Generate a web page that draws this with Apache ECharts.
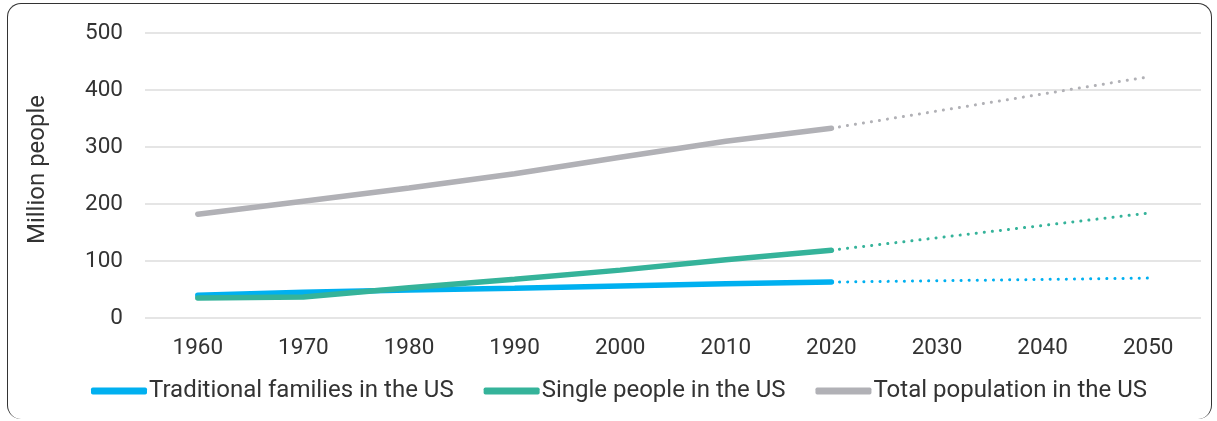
<!DOCTYPE html>
<html>
<head>
<meta charset="utf-8">
<script src="https://cdn.jsdelivr.net/npm/echarts@6/dist/echarts.min.js"></script>
<style>
  html, body { margin: 0; padding: 0; background: #fff; }
  #box { position: absolute; left: 7px; top: 3px; width: 1205px; height: 416px; border: 1.5px solid #333; border-radius: 14px; border-bottom: none; box-sizing: border-box; }
  #main { width: 1217px; height: 421px; }
</style>
</head>
<body>
<div id="box"></div>
<div id="main"></div>
<script>
// 数据
var years = ['1960','1970','1980','1990','2000','2010','2020','2030','2040','2050'];
var traditional = [40, 45, 49, 52, 56, 60, 63, null, null, null];
var single = [35, 37, 53, 68, 84, 102, 119, null, null, null];
var total = [182, 205, 228, 253, 282, 310, 333, null, null, null];
// 预测部分 (2020 -> 2050)
var traditionalProj = [null, null, null, null, null, null, 63, null, null, 70];
var singleProj = [null, null, null, null, null, null, 119, null, null, 184];
var totalProj = [null, null, null, null, null, null, 333, null, null, 423];

var cBlue = '#00b0f0', cGreen = '#35b39a', cGrey = '#b1b1b6';

var myChart = echarts.init(document.getElementById('main'));

function solid(name, data, color){
  return {
    name: name, type: 'line', data: data, showSymbol: false, symbol: 'none',
    lineStyle: {width: 5.5, color: color, cap: 'round'}, itemStyle: {color: color},
    z: 3
  };
}
function dotted(name, data, color){
  return {
    name: name, type: 'line', data: data, showSymbol: false, symbol: 'none', connectNulls: true,
    lineStyle: {width: 3, color: color, type: [0.1, 8], cap: 'round'},
    z: 2
  };
}

var option = {
  animation: false,
  textStyle: {fontFamily: 'Roboto'},
  grid: {left: 145, right: 16, top: 33, bottom: 103},
  legend: {
    data: ['Traditional families in the US', 'Single people in the US', 'Total population in the US'],
    top: 374, left: 86,
    icon: 'roundRect', itemWidth: 56, itemHeight: 7, itemGap: 30,
    textStyle: {fontSize: 24, color: '#333', fontFamily: 'Roboto', padding: [0, 0, 0, -3]}
  },
  xAxis: {
    type: 'category', data: years, boundaryGap: true,
    axisLine: {show: false}, axisTick: {show: false},
    axisLabel: {fontSize: 22.5, color: '#333', margin: 19}
  },
  yAxis: {
    type: 'value', min: 0, max: 500, interval: 100,
    name: 'Million people', nameLocation: 'middle', nameGap: 95, nameRotate: 90,
    nameTextStyle: {fontSize: 24, color: '#333', padding: [0, 0, 0, 12]},
    axisLabel: {fontSize: 22.5, color: '#333', margin: 22},
    splitLine: {lineStyle: {color: '#dcdcdc', width: 1.5}}
  },
  series: [
    solid('Traditional families in the US', traditional, cBlue),
    solid('Single people in the US', single, cGreen),
    solid('Total population in the US', total, cGrey),
    dotted('proj1', traditionalProj, cBlue),
    dotted('proj2', singleProj, cGreen),
    dotted('proj3', totalProj, cGrey)
  ]
};
myChart.setOption(option);
</script>
</body>
</html>
